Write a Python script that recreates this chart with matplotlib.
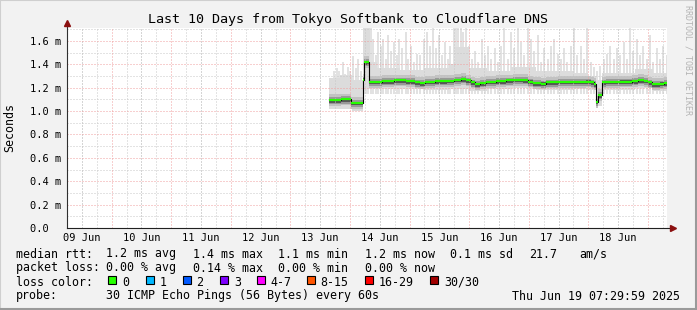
import numpy as np
import matplotlib
matplotlib.use("Agg")
import matplotlib.pyplot as plt
from matplotlib.patches import Rectangle

plt.rcParams['font.family'] = ['DejaVu Sans Mono']

W, H = 697, 310

# median rtt (ms), time in hours since 09 Jun 00:00, value holds until next time
med_h = [111.7, 116.5, 120.5, 125.3, 125.7, 127.7, 132.9, 137.7, 142.5, 146.1,
         148.1, 150.1, 154.1, 158.9, 161.7, 164.9, 166.9, 168.9, 170.5, 172.5,
         174.9, 178.9, 182.9, 185.7, 189.7, 191.7, 193.7, 196.9, 198.9, 203.7,
         210.9, 214.9, 216.9, 218.1, 218.9, 219.9, 221.5, 223.3, 228.9, 233.7,
         236.1, 238.5, 240.1, 241.7, 244.9, 246.5, 247.7]
med_v = [1.095, 1.100, 1.070, 1.270, 1.420, 1.250, 1.258, 1.262, 1.258, 1.245,
         1.238, 1.250, 1.258, 1.260, 1.268, 1.272, 1.262, 1.245, 1.232, 1.240,
         1.250, 1.255, 1.262, 1.268, 1.265, 1.252, 1.238, 1.235, 1.245, 1.250,
         1.250, 1.252, 1.245, 1.232, 1.080, 1.138, 1.245, 1.250, 1.252, 1.258,
         1.266, 1.260, 1.245, 1.232, 1.235, 1.240, 1.240]

# outer (light) smoke envelope
env_h = [111.7, 116.0, 121.0, 125.3, 128.0, 131.0, 140.0, 150.0, 160.0, 162.5,
         168.0, 175.0, 185.0, 195.0, 210.0, 216.0, 218.9, 221.5, 235.0, 242.0, 247.7]
env_top = [1.28, 1.31, 1.27, 1.72, 1.42, 1.37, 1.35, 1.37, 1.40, 1.55,
           1.37, 1.34, 1.38, 1.34, 1.33, 1.30, 1.27, 1.33, 1.36, 1.33, 1.33]
env_bot = [1.02, 1.02, 1.00, 1.19, 1.19, 1.19, 1.19, 1.18, 1.19, 1.19,
           1.17, 1.19, 1.20, 1.18, 1.19, 1.18, 1.04, 1.18, 1.20, 1.17, 1.17]

# single high pings
spike_h = [112.4, 113.4, 114.8, 115.7, 117.0, 118.0, 119.0, 120.1, 121.4, 122.4,
           123.3, 124.4, 125.7, 126.1, 126.5, 126.9, 127.3, 128.4, 129.4, 130.4,
           131.3, 132.4, 133.4, 134.4, 135.3, 136.4, 137.7, 138.8, 139.7, 141.0,
           142.4, 143.3, 144.4, 145.7, 147.0, 148.4, 149.7, 151.0, 152.1, 153.4,
           154.8, 155.7, 157.0, 158.4, 159.3, 160.4, 161.7, 162.8, 163.7, 164.6,
           165.7, 166.8, 167.8, 169.0, 170.4, 171.7, 173.0, 174.4, 175.7, 177.0,
           178.4, 179.7, 180.9, 182.2, 183.6, 184.9, 186.2, 187.6, 188.9, 190.2,
           191.6, 192.9, 194.2, 195.6, 196.9, 198.2, 199.6, 200.9, 202.2, 203.6,
           204.9, 206.2, 207.6, 208.9, 210.2, 211.6, 212.9, 214.2, 215.6, 216.9,
           218.2, 219.6, 220.9, 222.2, 223.6, 224.9, 226.2, 227.6, 228.9, 230.2,
           231.6, 232.9, 234.2, 235.6, 236.9, 238.2, 239.6, 240.9, 242.2, 243.6,
           244.9, 246.2, 247.6]
spike_v = [1.25, 1.34, 1.37, 1.34, 1.42, 1.32, 1.38, 1.34, 1.47, 1.37,
           1.45, 1.34, 1.72, 1.72, 1.72, 1.72, 1.72, 1.72, 1.62, 1.48,
           1.68, 1.56, 1.62, 1.45, 1.65, 1.51, 1.59, 1.48, 1.62, 1.54,
           1.68, 1.45, 1.56, 1.42, 1.49, 1.48, 1.62, 1.68, 1.56, 1.71,
           1.54, 1.65, 1.48, 1.59, 1.45, 1.56, 1.72, 1.72, 1.71, 1.72,
           1.68, 1.72, 1.56, 1.45, 1.51, 1.42, 1.62, 1.48, 1.56, 1.45,
           1.54, 1.42, 1.56, 1.72, 1.45, 1.68, 1.54, 1.71, 1.59, 1.48,
           1.72, 1.62, 1.51, 1.65, 1.42, 1.54, 1.45, 1.56, 1.62, 1.49,
           1.45, 1.54, 1.42, 1.56, 1.71, 1.48, 1.56, 1.45, 1.72, 1.42,
           1.38, 1.34, 1.39, 1.45, 1.49, 1.56, 1.45, 1.54, 1.48, 1.59,
           1.45, 1.72, 1.51, 1.62, 1.48, 1.56, 1.45, 1.65, 1.42, 1.54,
           1.45, 1.56, 1.48]

y_ticks = [0.0, 0.2, 0.4, 0.6, 0.8, 1.0, 1.2, 1.4, 1.6]
y_labels = ["0.0  ", "0.2 m", "0.4 m", "0.6 m", "0.8 m", "1.0 m", "1.2 m", "1.4 m", "1.6 m"]
x_labels = ["09 Jun", "10 Jun", "11 Jun", "12 Jun", "13 Jun",
            "14 Jun", "15 Jun", "16 Jun", "17 Jun", "18 Jun"]

title = "Last 10 Days from Tokyo Softbank to Cloudflare DNS"
rtt_row = ["median rtt:", "1.2 ms avg", "1.4 ms max", "1.1 ms min",
           "1.2 ms now", "0.1 ms sd", "21.7", "am/s"]
loss_row = ["packet loss:", "0.00 % avg", "0.14 % max", "0.00 % min", "0.00 % now"]
loss_labels = ["0", "1", "2", "3", "4-7", "8-15", "16-29", "30/30"]
loss_colors = ["#26ff00", "#00b8ff", "#0059ff", "#7e00ff",
               "#ff00ff", "#ff5500", "#ff0000", "#a10000"]
probe_text = "30 ICMP Echo Pings (56 Bytes) every 60s"
stamp = "Thu Jun 19 07:29:59 2025"


def fx(px):
    return px / W


def fy(py):
    return 1 - py / H


fig = plt.figure(figsize=(W / 100, H / 100), dpi=100, facecolor='#f2f2f2')
ax = fig.add_axes([fx(67), fy(228), 600 / W, 200 / H])
ax.set_facecolor('white')
ax.set_xlim(7.7, 247.7)
ax.set_ylim(0, 1.711)
for s in ax.spines.values():
    s.set_visible(False)

# grid
dot = (0, (1, 2))
ax.set_yticks(y_ticks, y_labels)
ax.set_yticks(np.arange(0.1, 1.75, 0.2), minor=True)
ax.set_xticks([12 + 24 * i for i in range(10)], x_labels)
ax.set_xticks([h for h in range(6, 248, 6) if h % 24 != 0], minor=True)
ax.xaxis.remove_overlapping_locs = False
ax.grid(which='minor', color='#c8c8c8', lw=0.72, ls=dot, zorder=3)
ax.grid(which='major', axis='x', color='#c8c8c8', lw=0.72, ls=dot, zorder=3)
ax.grid(which='major', axis='y', color='#f0a0a0', lw=0.72, ls=dot, zorder=3)
ax.vlines(range(24, 248, 24), 0, 1.711, colors='#f0a0a0', lw=0.72,
          linestyles=dot, zorder=3.1)
ax.set_axisbelow(False)

ax.tick_params(which='both', length=0, labelsize=7.5)
ax.tick_params(axis='y', pad=26.6)
ax.tick_params(axis='x', pad=3.4)
for lbl in ax.get_yticklabels():
    lbl.set_ha('left')

# smoke
mv = np.array(med_v)
ax.vlines(spike_h, 1.15, spike_v, colors='#e2e2e2', lw=1.4, zorder=1)
ax.fill_between(env_h, env_bot, env_top, step='post', color='#dcdcdc', lw=0, zorder=1.2)
ax.fill_between(med_h, mv - 0.05, mv + 0.05, step='post', color='#c2c2c2', lw=0, zorder=1.3)
ax.fill_between(med_h, mv - 0.035, mv + 0.025, step='post', color='#999999', lw=0, zorder=1.4)
ax.fill_between(med_h, mv - 0.022, mv + 0.01, step='post', color='#585858', lw=0, zorder=1.5)

# median
ax.step(med_h, med_v, where='post', color='black', lw=0.8, zorder=4)
ax.hlines(med_v[:-1], med_h[:-1], med_h[1:], colors='#26ff00', lw=1.6, zorder=5)

# axes with arrows
ax.plot([0, 0], [0, 1.02], transform=ax.transAxes, clip_on=False, color='#303030', lw=0.8, zorder=6)
ax.plot([0, 1.008], [0, 0], transform=ax.transAxes, clip_on=False, color='#202020', lw=0.8, zorder=6)
ax.plot(0, 1.025, marker='^', ms=4.5, color='#8b1010', transform=ax.transAxes, clip_on=False, zorder=7)
ax.plot(1.01, 0, marker='>', ms=4.5, color='#8b1010', transform=ax.transAxes, clip_on=False, zorder=7)

# texts
fig.text(fx(348.5), fy(20), title, ha='center', va='center', fontsize=9.6)
fig.text(fx(10), fy(128), "Seconds", rotation=90, ha='center', va='center', fontsize=8.4)
fig.text(fx(688), fy(5), "RRDTOOL / TOBI OETIKER", rotation=270, ha='center', va='top',
         fontsize=6, color='#b4b4b4')

fs = 8.4
for x, t in zip([16, 106, 193, 278, 365, 450, 529, 579], rtt_row):
    fig.text(fx(x), fy(254), t, ha='left', va='center', fontsize=fs)
for x, t in zip([16, 106, 193, 278, 365], loss_row):
    fig.text(fx(x), fy(268), t, ha='left', va='center', fontsize=fs)
fig.text(fx(16), fy(282), "loss color:", ha='left', va='center', fontsize=fs)
box_x = [108, 145.5, 182.5, 220, 256.5, 306.5, 365, 430]
for bx, lab, col in zip(box_x, loss_labels, loss_colors):
    fig.patches.append(Rectangle((fx(bx), fy(284)), 8 / W, 8 / H, transform=fig.transFigure,
                                 facecolor=col, edgecolor='black', lw=0.8))
    fig.text(fx(bx + 14), fy(282), lab, ha='left', va='center', fontsize=fs)
fig.text(fx(16), fy(296), "probe:", ha='left', va='center', fontsize=fs)
fig.text(fx(106), fy(296), probe_text, ha='left', va='center', fontsize=fs)
fig.text(fx(680), fy(296), stamp, ha='right', va='center', fontsize=fs)

# frame
fig.patches.append(Rectangle((0, 0), 1, 1, transform=fig.transFigure, fill=False,
                             edgecolor='#cfcfcf', lw=1.5))
fig.add_artist(plt.Line2D([0, 1], [0.003, 0.003], color='#9a9a9a', lw=1.5))
fig.add_artist(plt.Line2D([0.998, 0.998], [0, 1], color='#9a9a9a', lw=1.5))

fig.savefig("out.png", dpi=100, facecolor=fig.get_facecolor())
